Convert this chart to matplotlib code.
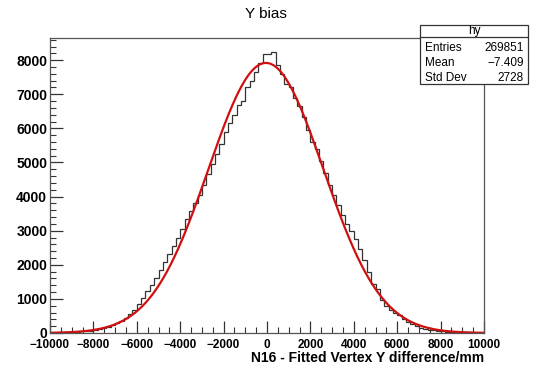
import numpy as np
import matplotlib
matplotlib.use("Agg")
from matplotlib import pyplot as plt
from matplotlib.patches import Rectangle
from matplotlib.ticker import MultipleLocator

plt.rcParams['font.family'] = ['Liberation Sans', 'DejaVu Sans']

# histogram hy : 100 bins of 200 mm from -10000 to 10000
x_min, x_max, n_bins = -10000, 10000, 100
counts = [
    12, 14, 16, 20, 24, 30, 36, 45, 55, 68,
    85, 105, 135, 170, 220, 280, 350, 440, 560, 680,
    850, 1030, 1230, 1420, 1620, 1850, 2080, 2320, 2560, 2800,
    3060, 3330, 3580, 3820, 4050, 4350, 4650, 4950, 5250, 5550,
    5900, 6150, 6400, 6700, 6800, 7200, 7400, 7650, 7930, 8170,
    8170, 8240, 7860, 7600, 7300, 7220, 6900, 6650, 6320, 5950,
    5600, 5400, 5030, 4700, 4350, 4050, 3750, 3450, 3200, 3000,
    2750, 2450, 2130, 1800, 1450, 1280, 980, 790, 680, 580,
    520, 400, 330, 260, 210, 160, 125, 95, 75, 60,
    48, 38, 30, 24, 19, 15, 12, 10, 8, 6,
]

# gaussian fit parameters
fit_const = 7920
fit_mean = -50
fit_sigma = 2650

# stats box
stats_name = "hy"
stats_labels = ["Entries", "Mean", "Std Dev"]
stats_values = ["269851", "\u22127.409", "2728"]

title = "Y bias"
xlabel = "N16 - Fitted Vertex Y difference/mm"

edges = np.linspace(x_min, x_max, n_bins + 1)

fig = plt.figure(figsize=(5.36, 3.69), dpi=100)
ax = fig.add_axes([0.0933, 0.0976, 0.8097, 0.7995])

ax.stairs(counts, edges, color='#333333', linewidth=0.9)

xf = np.linspace(x_min, x_max, 600)
yf = fit_const * np.exp(-0.5 * ((xf - fit_mean) / fit_sigma) ** 2)
ax.plot(xf, yf, color='#d01010', linewidth=1.6)

ax.set_xlim(x_min, x_max)
ax.set_ylim(0, max(counts) * 1.05)

ax.xaxis.set_major_locator(MultipleLocator(2000))
ax.xaxis.set_minor_locator(MultipleLocator(500))
ax.yaxis.set_major_locator(MultipleLocator(1000))
ax.yaxis.set_minor_locator(MultipleLocator(200))
ax.tick_params(which='both', direction='in', top=False, right=False,
               color='#333333')
ax.tick_params(which='major', length=9, width=0.9)
ax.tick_params(which='minor', length=4.5, width=0.8)
ax.tick_params(axis='x', labelsize=8.5, pad=4)
ax.tick_params(axis='y', labelsize=10, pad=2)
for lab in ax.get_xticklabels() + ax.get_yticklabels():
    lab.set_fontweight('bold')
for sp in ax.spines.values():
    sp.set_color('#555555')
    sp.set_linewidth(0.9)

fig.text(0.497, 0.962, title, ha='center', va='center', fontsize=11)
fig.text(0.903, 0.029, xlabel, ha='right', va='center', fontsize=10,
         fontweight='bold')

# stats box (drawn on top of frame)
bx0, bx1 = 0.7836, 0.985
by0, by1 = 0.7724, 0.9322
fig.patches.append(Rectangle((bx0, by0), bx1 - bx0, by1 - by0,
                             transform=fig.transFigure, facecolor='white',
                             edgecolor='#333333', linewidth=0.9, zorder=5))
fig.add_artist(plt.Line2D([bx0, bx1], [0.9005, 0.9005],
                          transform=fig.transFigure, color='#333333',
                          linewidth=0.9, zorder=6))
fig.text((bx0 + bx1) / 2, 0.916, stats_name, ha='center', va='center',
         fontsize=8.5, zorder=7)
rows_y = [0.870, 0.830, 0.789]
for lab, val, yy in zip(stats_labels, stats_values, rows_y):
    fig.text(0.793, yy, lab, ha='left', va='center', fontsize=8.5, zorder=7)
    fig.text(0.9776, yy, val, ha='right', va='center', fontsize=8.5, zorder=7)

fig.savefig("out.png", dpi=100)
